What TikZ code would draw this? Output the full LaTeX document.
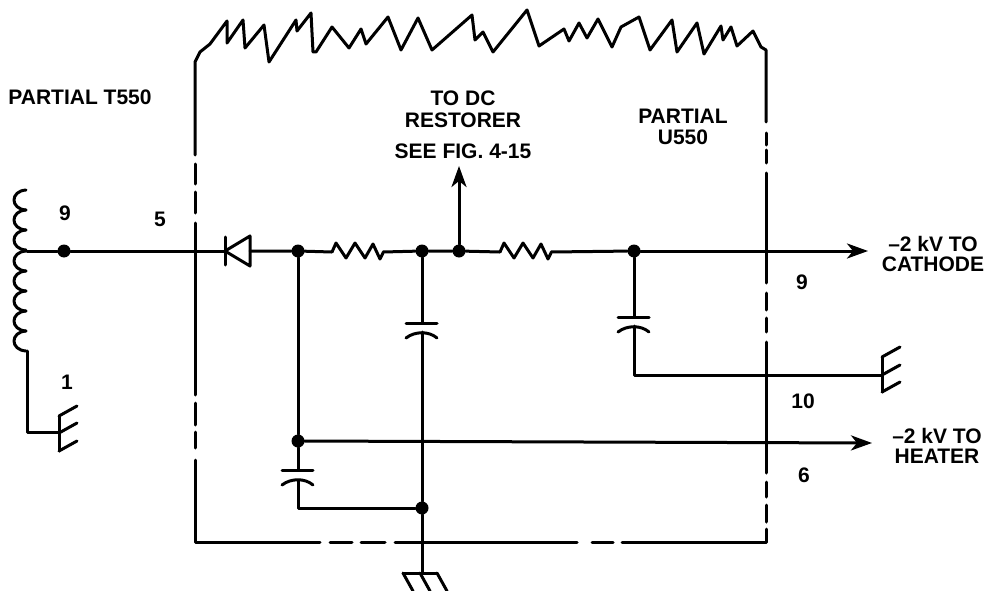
\documentclass[tikz,border=0pt]{standalone}
\usepackage{fontspec}
\setmainfont{Liberation Sans}
\usetikzlibrary{arrows.meta}
\newcommand{\lb}{\fontsize{21}{23}\selectfont\bfseries}
\newcommand{\capac}[1]{%
  \draw[wire] ([xshift=-16]#1) -- ([xshift=15]#1);
  \draw[wire] ([xshift=-16,yshift=-15]#1) .. controls ([xshift=-7,yshift=-8]#1) and ([xshift=7,yshift=-8]#1) .. ([xshift=15,yshift=-15]#1);}
\newcommand{\resis}[1]{%
  \draw[wire] (#1) -- ++(4,-9) -- ++(10,15) -- ++(9,-15) -- ++(10,15) -- ++(8,-14) -- ++(7,15) -- ++(3,-6);}
\tikzset{
  wire/.style={line width=3pt,line cap=round,line join=round},
  dotnode/.style={circle,fill=black,inner sep=0pt,minimum size=13pt},
  txt/.style={font=\lb,align=center,inner sep=0pt},
  arrowline/.style={wire,-{Stealth[length=21pt,width=15pt,inset=6pt]}},
}
\begin{document}
\begin{tikzpicture}[x=1pt,y=-1pt]
  \useasboundingbox (0,0) rectangle (987,591);
  \coordinate (tap) at (27,251);
  \node[dotnode] (d9) at (64,251) {};
  \node[dotnode] (dA) at (298,251) {};
  \node[dotnode] (dB) at (422,251) {};
  \node[dotnode] (dC) at (459,251) {};
  \node[dotnode] (dD) at (634,251) {};
  \node[dotnode] (dE) at (298,441) {};
  \node[dotnode] (dF) at (422,508) {};
  \coordinate (cathode) at (868,251);
  \coordinate (heater) at (872,443);
  \coordinate (restorer) at (459,166);
  \coordinate (dio) at (225,251);
  \coordinate (dioB) at (250,251);
  \coordinate (rA) at (332,252);
  \coordinate (rAe) at (383,252);
  \coordinate (rB) at (500,252);
  \coordinate (rBe) at (551,252);
  \coordinate (cA) at (422,323);
  \coordinate (cB) at (298,470);
  \coordinate (cC) at (634,317);
  \coordinate (gndL) at (59,432);
  \coordinate (gndR) at (882,375);
  \coordinate (gndB) at (422,573);
  % transformer
  \foreach \yy in {190,210,230,251,271,291,311,331}
    \draw[wire] (26,\yy) .. controls (10,\yy+1) and (10,\yy+19) .. (26,\yy+20);
  \draw[wire] (tap) -- (d9) -- (dio);
  \draw[wire] (27,351) |- (gndL);
  \draw[wire] ([yshift=-19]gndL) -- ([yshift=16]gndL);
  \foreach \yy in {-19,-1,16}
    \draw[wire] ([yshift=\yy]gndL) -- ++(18,-10);
  % diode
  \draw[wire] (225,237) -- (225,265);
  \draw[wire] (dio) -- (250,236) -- (250,266) -- cycle;
  % main line
  \draw[wire] (dioB) -- (dA) -- (rA);
  \resis{rA}
  \draw[wire] (rAe) -- (dB) -- (dC) -- (rB);
  \resis{rB}
  \draw[wire] (rBe) -- (dD);
  \draw[arrowline] (dD) -- (cathode);
  \draw[arrowline] (dC) -- (restorer);
  % caps
  \draw[wire] (dA) -- (dE) -- (cB);
  \capac{cB}
  \draw[wire] ([yshift=-11]cB) |- (dF);
  \draw[arrowline] (dE) -- (heater);
  \draw[wire] (dB) -- (cA);
  \capac{cA}
  \draw[wire] ([yshift=-9]cA) -- (dF) -- (gndB);
  \draw[wire] (dD) -- (cC);
  \capac{cC}
  \draw[wire] ([yshift=-9]cC) |- (gndR);
  \draw[wire] ([yshift=-17]gndR) -- ([yshift=18]gndR);
  \foreach \yy in {-17,0,18}
    \draw[wire] ([yshift=\yy]gndR) -- ++(18,-10);
  % ground
  \draw[wire] (403,573) -- (437,573);
  \draw[wire] (403,573) -- (413,591);
  \draw[wire] (420,573) -- (430,591);
  \draw[wire] (437,573) -- (447,591);
  % box
  \draw[wire] (195,155) -- (195,62) -- (200,52) -- (210,44) -- (227,21) -- (227,43) -- (243,20) -- (245,48) -- (264,25) -- (269,62)
    -- (296,20) -- (297,31) -- (311,13) -- (313,52) -- (316,52) -- (332,27) -- (349,48) -- (361,29) -- (366,44)
    -- (388,17) -- (401,50) -- (418,18) -- (432,50) -- (472,15) -- (475,40) -- (483,32) -- (493,52) -- (527,10)
    -- (539,46) -- (564,29) -- (569,41) -- (579,23) -- (587,38) -- (598,19) -- (612,47) -- (621,27) -- (639,17)
    -- (650,50) -- (672,20) -- (677,52) -- (697,23) -- (704,54) -- (721,26) -- (723,40) -- (731,27) -- (737,46)
    -- (753,31) -- (761,47) -- (766,50) -- (766,122);
  \draw[wire] (195,164) -- (195,184) (195,192) -- (195,213) (195,223) -- (195,395) (195,403) -- (195,425)
    (195,432) -- (195,448) (195,460) -- (195,542) -- (320,542) (330,542) -- (352,542) (361,542) -- (385,542)
    (395,542) -- (577,542) (592,542) -- (613,542) (622,542) -- (766,542) -- (766,529) (766,522) -- (766,505)
    (766,497) -- (766,482) (766,473) -- (766,342) (766,332) -- (766,318) (766,310) -- (766,293) (766,283) -- (766,173)
    (766,163) -- (766,150) (766,145) -- (766,133);
  % labels
  \node[txt] (t550) at (80,97) {PARTIAL T550};
  \node[txt] (p9) at (65,213) {9};
  \node[txt] (p5) at (160,219) {5};
  \node[txt] (p1) at (67,382) {1};
  \node[txt] (tdc) at (463,98) {TO DC};
  \node[txt] (rst) at (463,120) {RESTORER};
  \node[txt] (fig) at (463,151) {SEE FIG. 4-15};
  \node[txt] (u550a) at (683,116) {PARTIAL};
  \node[txt] (u550b) at (683,137) {U550};
  \node[txt] (p9r) at (802,282) {9};
  \node[txt] (p10) at (803,401) {10};
  \node[txt] (p6) at (804,475) {6};
  \node[txt] (kvA) at (933,244) {--2 kV TO};
  \node[txt] (cat) at (933,264) {CATHODE};
  \node[txt] (kvB) at (937,436) {--2 kV TO};
  \node[txt] (hea) at (937,456) {HEATER};
\end{tikzpicture}
\end{document}
